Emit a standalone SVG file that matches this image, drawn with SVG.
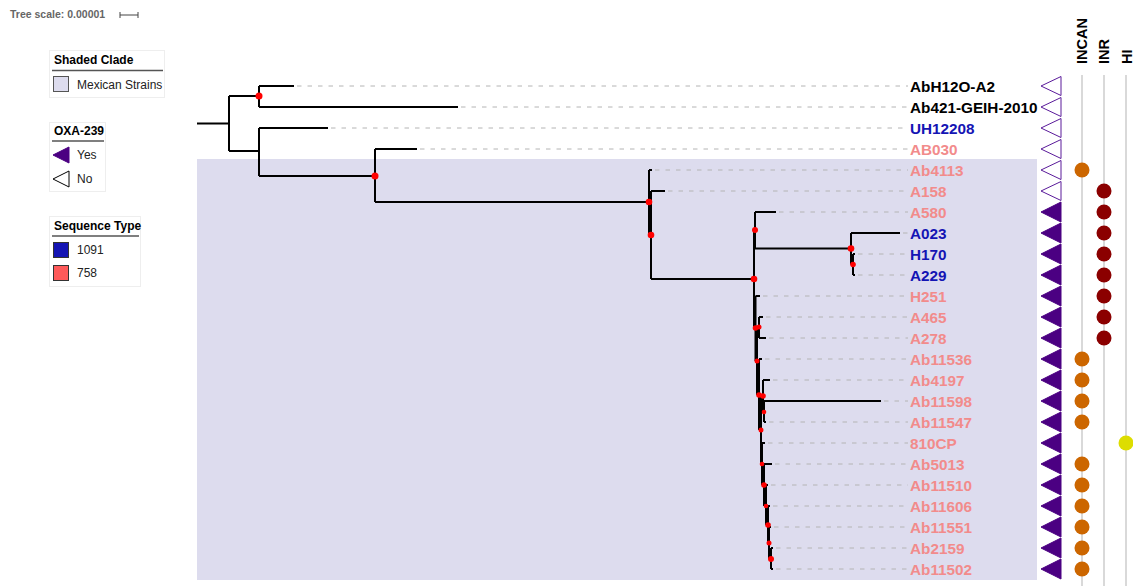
<svg xmlns="http://www.w3.org/2000/svg" width="1133" height="586" viewBox="0 0 1133 586">
<defs>
<style>
text{font-family:"Liberation Sans",Arial,sans-serif}
.lbl{font-size:15.3px;font-weight:bold}
.blk{fill:#000}
.blu{fill:#1414b4}
.pnk{fill:#f28b8b}
.lead{stroke:#b4b4b4;stroke-width:1;stroke-dasharray:4.5 6;fill:none}
.br{stroke:#000;stroke-width:2;fill:none}
.dot{fill:#f00}
.tri-o{fill:#fff;stroke:#5a1a9a;stroke-width:1}
.tri-f{fill:#4b0082;stroke:#4b0082;stroke-width:1}
.incan{fill:#cc6600}
.inr{fill:#8b0000}
.hi{fill:#dddd00}
.col{stroke:#ccc;stroke-width:1.5}
.hdr{font-size:14.5px;font-weight:bold;fill:#000}
.lgbox{fill:#fff;stroke:#eee;stroke-width:1}
.lgt{font-size:12px;font-weight:bold;fill:#000}
.lgx{font-size:12px;fill:#222}
.lgl{stroke:#555;stroke-width:1.5}
</style>
</defs>
<rect width="1133" height="586" fill="#fff"/>

<g id="scale">
<text x="10" y="18" style="font-size:10.5px;font-weight:bold;fill:#666">Tree scale: 0.00001</text>
<path d="M120,15 H138 M120,12 V18 M138,12 V18" stroke="#444" stroke-width="1" fill="none"/>
</g>

<g id="legend-clade">
<rect class="lgbox" x="49.5" y="50.5" width="115" height="47"/>
<text class="lgt" x="54" y="64">Shaded Clade</text>
<line class="lgl" x1="52" y1="70.5" x2="163" y2="70.5"/>
<rect x="53.5" y="76.5" width="15" height="15" fill="#dddcee" stroke="#555"/>
<text class="lgx" x="77" y="88.5">Mexican Strains</text>
</g>

<g id="legend-oxa">
<rect class="lgbox" x="49.5" y="122.5" width="56" height="69"/>
<text class="lgt" x="54" y="135">OXA-239</text>
<line class="lgl" x1="52" y1="141" x2="104" y2="141"/>
<polygon class="tri-f" points="53,155 69,147 69,163"/>
<text class="lgx" x="77" y="159">Yes</text>
<polygon points="53,179 69,171 69,187" fill="#fff" stroke="#000" stroke-width="1"/>
<text class="lgx" x="77" y="183">No</text>
</g>

<g id="legend-st">
<rect class="lgbox" x="49.5" y="216.5" width="91" height="70"/>
<text class="lgt" x="54" y="230">Sequence Type</text>
<line class="lgl" x1="52" y1="236" x2="139" y2="236"/>
<rect x="53.5" y="242.5" width="15" height="15" fill="#1414b4" stroke="#333"/>
<text class="lgx" x="77" y="254">1091</text>
<rect x="53.5" y="265.5" width="15" height="15" fill="#ff5a5a" stroke="#333"/>
<text class="lgx" x="77" y="277">758</text>
</g>

<rect id="clade-shade" x="197" y="159" width="840" height="421" fill="#dddcee"/>

<g id="headers">
<line class="col" x1="1082" y1="75" x2="1082" y2="586"/>
<line class="col" x1="1104" y1="75" x2="1104" y2="586"/>
<line class="col" x1="1126" y1="75" x2="1126" y2="586"/>
<text class="hdr" transform="translate(1087,64) rotate(-90)">INCAN</text>
<text class="hdr" transform="translate(1109,64) rotate(-90)">INR</text>
<text class="hdr" transform="translate(1131.5,64) rotate(-90)">HI</text>
</g>

<g id="connectors">
<g id="leaders">
<path class="lead" d="M297,86H908 M461,107H908 M331,128H908 M420,149H908 M655,170H908 M668,191H908 M779,212H908 M903,233H908 M858,254H908 M858,275H908 M763,296H908 M766,317H908 M769,338H908 M765,359H908 M773,380H908 M884,401H908 M769,422H908 M768,443H908 M775,464H908 M771,485H908 M773,506H908 M774,527H908 M776,548H908 M776,569H908"/>
</g>
<g id="branches">
<path class="br" d="M197,123.5H229 M229,96V151 M229,96H259 M229,151H259 M259,86V107 M259,86H294 M259,107H458 M259,128V176 M259,128H328 M259,176H375 M375,149V202 M375,149H417 M375,202H649 M649,170V235 M649,170H652 M649,235H651 M651,191V279 M651,191H665 M651,279H754 M754,230V328 M754,230H755 M755,212V248.5 M755,212H776 M755,248.5H851 M851,233V264.5 M851,233H900 M851,264.5H853 M853,254V275 M853,254H855 M853,275H855"/>
<path class="br" d="M754,328H755.5 M755.5,296V361 M755.5,296H760 M755.5,361H757 M757,327V395 M757,327H759 M757,395H759 M759,317V338 M759,317H763 M759,338H766 M759,359V430 M759,359H762 M759,430H761 M761,396V464 M761,396H763 M761,464H762 M763,380V412 M763,380H770 M763,412H764 M764,401V422 M764,401H881 M764,422H766 M762,443V485 M762,443H765 M762,485H764 M764,464V506 M764,464H772 M764,506H766 M766,485V525 M766,485H768 M766,525H768 M768,506V543 M768,506H770 M768,543H769 M769,527V559 M769,527H771 M769,559H771 M771,548V569 M771,548H773 M771,569H773"/>
</g>
<g id="support-dots">
<circle class="dot" cx="259" cy="96" r="3.5"/>
<circle class="dot" cx="375" cy="176" r="3.5"/>
<circle class="dot" cx="649" cy="202" r="3.3"/>
<circle class="dot" cx="651" cy="235" r="3.3"/>
<circle class="dot" cx="754" cy="279" r="3.3"/>
<circle class="dot" cx="755" cy="230" r="3"/>
<circle class="dot" cx="851" cy="248.5" r="3.3"/>
<circle class="dot" cx="853" cy="264.5" r="2.8"/>
<circle class="dot" cx="755.5" cy="328" r="2.8"/>
<circle class="dot" cx="759" cy="327" r="2.5"/>
<circle class="dot" cx="757" cy="361" r="2.5"/>
<circle class="dot" cx="759" cy="395" r="2.8"/>
<circle class="dot" cx="763" cy="396" r="2.8"/>
<circle class="dot" cx="764" cy="412" r="2.3"/>
<circle class="dot" cx="761" cy="430" r="2.5"/>
<circle class="dot" cx="762" cy="464" r="2.3"/>
<circle class="dot" cx="764" cy="485" r="2.8"/>
<circle class="dot" cx="766" cy="506" r="2.3"/>
<circle class="dot" cx="768" cy="525" r="2.8"/>
<circle class="dot" cx="769" cy="543" r="2.5"/>
<circle class="dot" cx="771" cy="559" r="3"/>
</g>
</g>

<g id="n-AbH12O-A2"><text class="lbl blk" x="910" y="91.6">AbH12O-A2</text><polygon class="tri-o" points="1041,86 1061,76.5 1061,95.5"/></g>
<g id="n-Ab421-GEIH-2010"><text class="lbl blk" x="910" y="112.6">Ab421-GEIH-2010</text><polygon class="tri-o" points="1041,107 1061,97.5 1061,116.5"/></g>
<g id="n-UH12208"><text class="lbl blu" x="910" y="133.6">UH12208</text><polygon class="tri-o" points="1041,128 1061,118.5 1061,137.5"/></g>
<g id="n-AB030"><text class="lbl pnk" x="910" y="154.6">AB030</text><polygon class="tri-o" points="1041,149 1061,139.5 1061,158.5"/></g>
<g id="n-Ab4113"><text class="lbl pnk" x="910" y="175.6">Ab4113</text><polygon class="tri-o" points="1041,170 1061,160.5 1061,179.5"/><circle class="incan" cx="1082" cy="170" r="7.5"/></g>
<g id="n-A158"><text class="lbl pnk" x="910" y="196.6">A158</text><polygon class="tri-o" points="1041,191 1061,181.5 1061,200.5"/><circle class="inr" cx="1104" cy="191" r="7.5"/></g>
<g id="n-A580"><text class="lbl pnk" x="910" y="217.6">A580</text><polygon class="tri-f" points="1041,212 1061,202 1061,222"/><circle class="inr" cx="1104" cy="212" r="7.5"/></g>
<g id="n-A023"><text class="lbl blu" x="910" y="238.6">A023</text><polygon class="tri-f" points="1041,233 1061,223 1061,243"/><circle class="inr" cx="1104" cy="233" r="7.5"/></g>
<g id="n-H170"><text class="lbl blu" x="910" y="259.6">H170</text><polygon class="tri-f" points="1041,254 1061,244 1061,264"/><circle class="inr" cx="1104" cy="254" r="7.5"/></g>
<g id="n-A229"><text class="lbl blu" x="910" y="280.6">A229</text><polygon class="tri-f" points="1041,275 1061,265 1061,285"/><circle class="inr" cx="1104" cy="275" r="7.5"/></g>
<g id="n-H251"><text class="lbl pnk" x="910" y="301.6">H251</text><polygon class="tri-f" points="1041,296 1061,286 1061,306"/><circle class="inr" cx="1104" cy="296" r="7.5"/></g>
<g id="n-A465"><text class="lbl pnk" x="910" y="322.6">A465</text><polygon class="tri-f" points="1041,317 1061,307 1061,327"/><circle class="inr" cx="1104" cy="317" r="7.5"/></g>
<g id="n-A278"><text class="lbl pnk" x="910" y="343.6">A278</text><polygon class="tri-f" points="1041,338 1061,328 1061,348"/><circle class="inr" cx="1104" cy="338" r="7.5"/></g>
<g id="n-Ab11536"><text class="lbl pnk" x="910" y="364.6">Ab11536</text><polygon class="tri-f" points="1041,359 1061,349 1061,369"/><circle class="incan" cx="1082" cy="359" r="7.5"/></g>
<g id="n-Ab4197"><text class="lbl pnk" x="910" y="385.6">Ab4197</text><polygon class="tri-f" points="1041,380 1061,370 1061,390"/><circle class="incan" cx="1082" cy="380" r="7.5"/></g>
<g id="n-Ab11598"><text class="lbl pnk" x="910" y="406.6">Ab11598</text><polygon class="tri-f" points="1041,401 1061,391 1061,411"/><circle class="incan" cx="1082" cy="401" r="7.5"/></g>
<g id="n-Ab11547"><text class="lbl pnk" x="910" y="427.6">Ab11547</text><polygon class="tri-f" points="1041,422 1061,412 1061,432"/><circle class="incan" cx="1082" cy="422" r="7.5"/></g>
<g id="n-810CP"><text class="lbl pnk" x="910" y="448.6">810CP</text><polygon class="tri-f" points="1041,443 1061,433 1061,453"/><circle class="hi" cx="1126" cy="443" r="7.5"/></g>
<g id="n-Ab5013"><text class="lbl pnk" x="910" y="469.6">Ab5013</text><polygon class="tri-f" points="1041,464 1061,454 1061,474"/><circle class="incan" cx="1082" cy="464" r="7.5"/></g>
<g id="n-Ab11510"><text class="lbl pnk" x="910" y="490.6">Ab11510</text><polygon class="tri-f" points="1041,485 1061,475 1061,495"/><circle class="incan" cx="1082" cy="485" r="7.5"/></g>
<g id="n-Ab11606"><text class="lbl pnk" x="910" y="511.6">Ab11606</text><polygon class="tri-f" points="1041,506 1061,496 1061,516"/><circle class="incan" cx="1082" cy="506" r="7.5"/></g>
<g id="n-Ab11551"><text class="lbl pnk" x="910" y="532.6">Ab11551</text><polygon class="tri-f" points="1041,527 1061,517 1061,537"/><circle class="incan" cx="1082" cy="527" r="7.5"/></g>
<g id="n-Ab2159"><text class="lbl pnk" x="910" y="553.6">Ab2159</text><polygon class="tri-f" points="1041,548 1061,538 1061,558"/><circle class="incan" cx="1082" cy="548" r="7.5"/></g>
<g id="n-Ab11502"><text class="lbl pnk" x="910" y="574.6">Ab11502</text><polygon class="tri-f" points="1041,569 1061,559 1061,579"/><circle class="incan" cx="1082" cy="569" r="7.5"/></g>
</svg>
